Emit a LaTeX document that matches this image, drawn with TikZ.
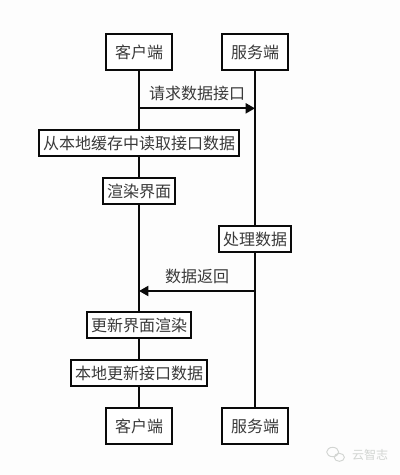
\documentclass[tikz,border=0pt]{standalone}
\usepackage{fontspec}
\setmainfont{Noto Sans CJK SC}[Scale=1]
\usepackage{tikz}
\usetikzlibrary{arrows.meta, positioning, backgrounds, calc}
\definecolor{fondoGris}{HTML}{FDFDFD}
\definecolor{lineaNegra}{HTML}{0A0A0A}
\definecolor{textoGris}{HTML}{3A3A3A}
\definecolor{marcaGris}{HTML}{D2D5D2}

\begin{document}
\begin{tikzpicture}[
        actor/.style={draw=lineaNegra, fill=white, line width=1.5pt, text=textoGris,
            minimum width=49.5pt, minimum height=27pt, inner sep=0pt, font=\fontsize{12}{14}\selectfont},
        proc/.style={draw=lineaNegra, fill=white, line width=1.5pt, text=textoGris,
            minimum height=19.5pt, inner sep=0pt, font=\fontsize{12}{14}\selectfont},
        life/.style={lineaNegra, line width=1.5pt},
        msg/.style={-{Triangle[length=7pt, width=7.5pt]}, lineaNegra, line width=1.5pt},
        msgtxt/.style={text=textoGris, font=\fontsize{12}{14}\selectfont, inner sep=0pt, above=5pt},
        burbuja/.style={draw=marcaGris, line width=0.7pt}
    ]
        \useasboundingbox (0,0) rectangle (300pt,-356.25pt);
        \node[actor] (cliTop) at (104.25pt,-39pt) {客户端};
        \node[actor, right=36pt of cliTop] (srvTop) {服务端};
        \node[proc, minimum width=150pt, below=43.5pt of cliTop] (leer) {从本地缓存中读取接口数据};
        \node[proc, minimum width=54pt, below=15pt of leer] (render) {渲染界面};
        \node[proc, minimum width=54pt, below=115.5pt of srvTop] (proceso) {处理数据};
        \node[proc, minimum width=78pt, below=79.5pt of render] (update) {更新界面渲染};
        \node[proc, minimum width=102pt, below=15pt of update] (local) {本地更新接口数据};
        \node[actor, below=15pt of local] (cliBot) {客户端};
        \node[actor, right=36pt of cliBot] (srvBot) {服务端};

        \coordinate[below=28pt of cliTop.south] (reqIni);
        \coordinate (reqFin) at (reqIni -| srvTop);
        \coordinate[below=28.5pt of proceso.south] (resIni);
        \coordinate (resFin) at (resIni -| cliTop);

        \draw[msg] (reqIni) -- node[msgtxt]{请求数据接口} (reqFin);
        \draw[msg] (resIni) -- node[msgtxt]{数据返回} (resFin);

        % marca
        \node[text=marcaGris, inner sep=0pt, font=\fontsize{9}{11}\selectfont] (marca) at (277.5pt,-341pt) {云智志};
        \draw[burbuja] (249.5pt,-339pt) ellipse (4.5pt and 3.5pt);
        \draw[burbuja] (254.5pt,-343pt) ellipse (3.8pt and 3pt);

        \begin{scope}[on background layer]
            \fill[fondoGris] (0,0) rectangle (300pt,-356.25pt);
            \draw[life] (cliTop) -- (leer);
            \draw[life] (leer) -- (render);
            \draw[life] (render) -- (update);
            \draw[life] (update) -- (local);
            \draw[life] (local) -- (cliBot);
            \draw[life] (srvTop) -- (proceso);
            \draw[life] (proceso) -- (srvBot);
        \end{scope}
    \end{tikzpicture}
\end{document}
